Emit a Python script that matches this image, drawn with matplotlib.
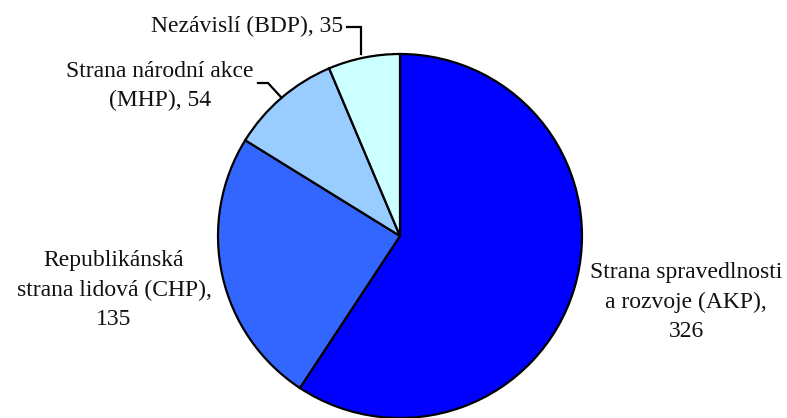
import numpy as np
import matplotlib
matplotlib.use("Agg")
import matplotlib.pyplot as plt

labels = ["Strana spravedlnosti\na rozvoje (AKP),\n326",
          "Republikánská\nstrana lidová (CHP),\n135",
          "Strana národní akce\n(MHP), 54",
          "Nezávislí (BDP), 35"]
values = [326, 135, 54, 35]
colors = ["#0000FF", "#3366FF", "#99CCFF", "#CCFFFF"]

W, H = 787, 418
fig = plt.figure(figsize=(W / 100, H / 100), dpi=100)
ax = fig.add_axes([0, 0, 1, 1])

cx, cy, r = 400, H - 236, 182
wedges, _ = ax.pie(values, colors=colors, startangle=90, counterclock=False,
                   center=(cx, cy), radius=r, frame=True,
                   wedgeprops=dict(edgecolor="black", linewidth=1.6))
ax.set_xlim(0, W)
ax.set_ylim(0, H)
ax.set_aspect("equal")
ax.axis("off")

font = dict(family=["Liberation Serif", "DejaVu Serif"], fontsize=17, color="#111111")

def mid_point(w):
    a = np.deg2rad((w.theta1 + w.theta2) / 2)
    return cx + r * np.cos(a), cy + r * np.sin(a)

# AKP
ax.text(686, H - 302, labels[0], ha="center", va="center", linespacing=1.52, **font)
# CHP
ax.text(114, H - 290, labels[1], ha="center", va="center", linespacing=1.52, **font)
# MHP
ax.text(160, H - 86, labels[2], ha="center", va="center", linespacing=1.52, **font)
# BDP
ax.text(343, H - 26, labels[3], ha="right", va="center", **font)

# leader lines
px, py = mid_point(wedges[3])
ax.plot([347, px - 3, px - 3], [H - 27, H - 27, py + 4], color="black", lw=1.6, solid_joinstyle="miter")
px, py = mid_point(wedges[2])
ax.plot([258, 268, px], [H - 83, H - 83, py], color="black", lw=1.6, solid_joinstyle="miter")

fig.savefig("out.png", dpi=100)
